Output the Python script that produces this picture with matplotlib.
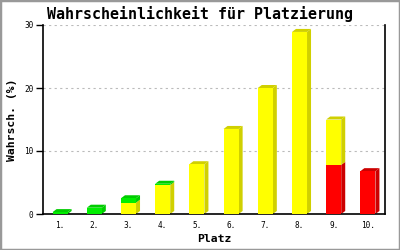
import matplotlib
matplotlib.use('Agg')
import matplotlib.pyplot as plt
import matplotlib.patches as patches
import numpy as np

# Data (percent per placing, stacked)
places = ['1.', '2.', '3.', '4.', '5.', '6.', '7.', '8.', '9.', '10.']
red = [0, 0, 0, 0, 0, 0, 0, 0, 7.8, 6.8]
yellow = [0, 0, 1.8, 4.6, 7.9, 13.5, 20.0, 28.9, 7.2, 0]
green = [0.3, 1.0, 0.7, 0.2, 0, 0, 0, 0, 0, 0]

series = [(red, '#ff0000', '#cc0000'),
          (yellow, '#ffff00', '#d0d000'),
          (green, '#00ee00', '#00cc00')]

W, H = 400, 250
fig = plt.figure(figsize=(4, 2.5), dpi=100)
fig.patches.append(patches.Rectangle((0, 0), 1, 1, transform=fig.transFigure,
                                     fill=False, edgecolor='#999999', lw=2.5))

ax = fig.add_axes([43 / W, 36 / H, 342 / W, 189 / H])
ax.set_xlim(0.5, 10.5)
ax.set_ylim(0, 30)

# 3D depth: 4 px right, 3 px up, converted to data units
dx = 4 / 342 * 10
dy = 3 / 189 * 30
bw = 0.44

x = np.arange(1, len(places) + 1)
bottom = np.zeros(len(places))
top_col = [None] * len(places)
for vals, front, dark in series:
    vals = np.array(vals, dtype=float)
    for i in range(len(places)):
        if vals[i] <= 0:
            continue
        b, t = bottom[i], bottom[i] + vals[i]
        xr = x[i] + bw / 2
        ax.add_patch(patches.Polygon([(xr, b), (xr + dx, b + dy), (xr + dx, t + dy), (xr, t)],
                                     closed=True, facecolor=dark, edgecolor='none',
                                     zorder=2, clip_on=False))
        top_col[i] = dark
    ax.bar(x[vals > 0], vals[vals > 0], width=bw, bottom=bottom[vals > 0],
           color=front, edgecolor='none', zorder=3)
    bottom = bottom + vals

for i in range(len(places)):
    t = bottom[i]
    xl, xr = x[i] - bw / 2, x[i] + bw / 2
    ax.add_patch(patches.Polygon([(xl, t), (xr, t), (xr + dx, t + dy), (xl + dx, t + dy)],
                                 closed=True, facecolor=top_col[i], edgecolor='none',
                                 zorder=2, clip_on=False))

mono = 'DejaVu Sans Mono'
ax.set_yticks([0, 10, 20, 30])
ax.set_yticklabels(['0', '10', '20', '30'], fontsize=5.6, family=mono)
ax.set_xticks(x)
ax.set_xticklabels(places, fontsize=5.6, family=mono)
ax.tick_params(axis='x', length=0, pad=5)
ax.tick_params(axis='y', length=5, width=1, pad=2)
ax.yaxis.grid(True, color='#bbbbbb', linestyle=(0, (2, 3)), lw=0.8)
ax.set_axisbelow(True)

for s in ['left', 'bottom', 'right']:
    ax.spines[s].set_color('black')
    ax.spines[s].set_linewidth(1.2)
ax.spines['top'].set_visible(False)

ax.set_xlabel('Platz', fontsize=8.2, family=mono, fontweight='bold', labelpad=3)
ax.set_ylabel('Wahrsch. (%)', fontsize=8.2, family=mono, fontweight='bold', labelpad=5)
fig.text(0.5, 1 - 14 / H, 'Wahrscheinlichkeit für Platzierung', ha='center', va='center',
         fontsize=10.8, family=mono, fontweight='bold')

fig.savefig('out.png', dpi=100, facecolor='white')
